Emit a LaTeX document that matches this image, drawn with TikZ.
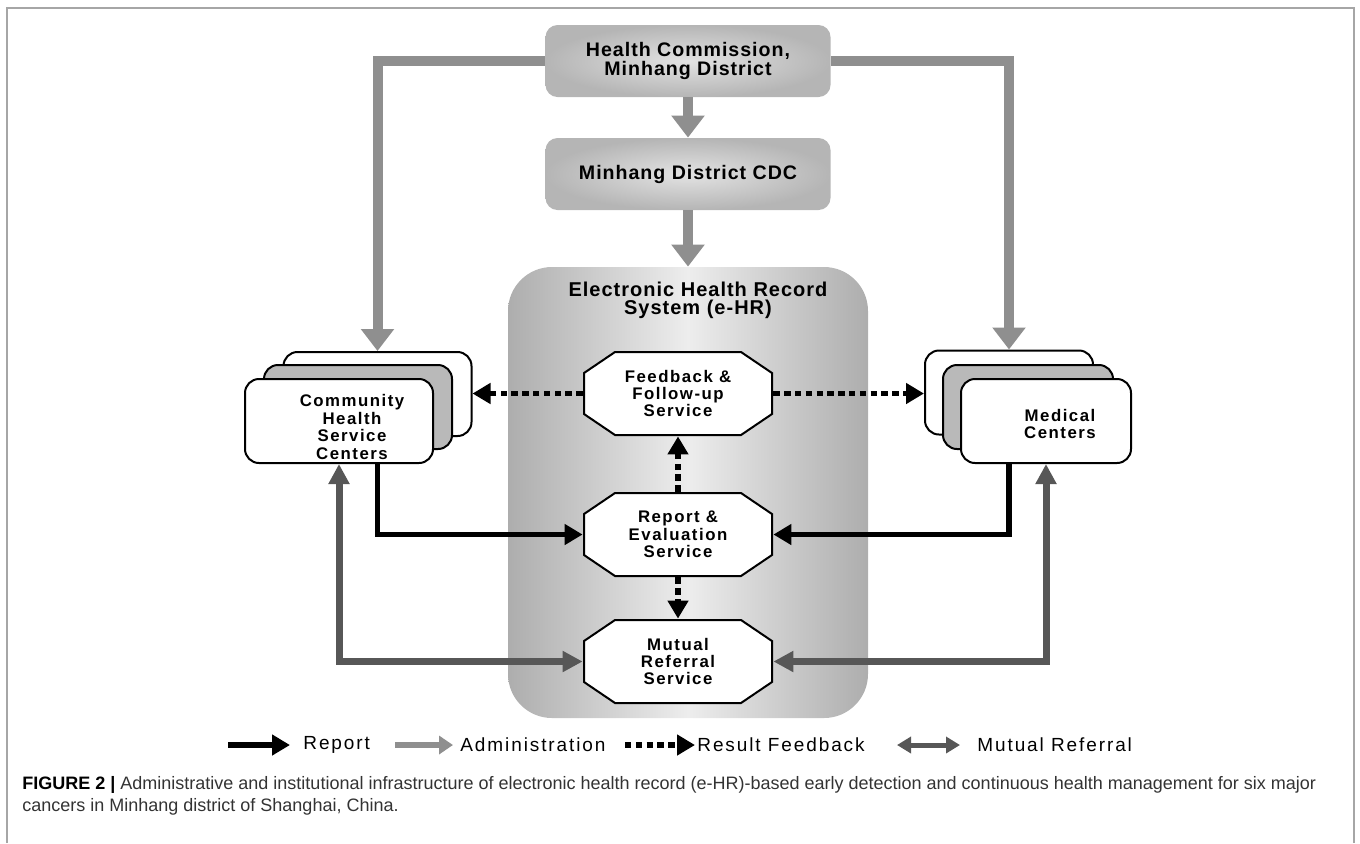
\documentclass[tikz,border=0pt]{standalone}
\usepackage{fontspec}
\setmainfont{Liberation Sans}
\newfontfamily\govfont[LetterSpace=5]{Liberation Sans}
\newfontfamily\innerfont[LetterSpace=9]{Liberation Sans}
\newfontfamily\legfont[LetterSpace=10]{Liberation Sans}
\usetikzlibrary{arrows.meta,positioning,calc}

\tikzset{
  govbox/.style={rectangle, rounded corners=6pt, inner color=gray!22, outer color=gray!58,
    minimum width=142.5pt, minimum height=36pt, align=center,
    font=\govfont\bfseries\fontsize{9.8}{9.2}\selectfont},
  ehrbox/.style={rectangle, rounded corners=22pt, left color=gray!64, right color=gray!64,
    middle color=gray!14, minimum width=180pt, minimum height=225.5pt},
  stackbox/.style={rectangle, draw=black, line width=1pt, rounded corners=7pt, fill=white,
    minimum height=42pt},
  stacktext/.style={align=center, font=\innerfont\bfseries\fontsize{8.4}{8.7}\selectfont},
  octbox/.style={rectangle, minimum width=95pt, minimum height=42.5pt, inner sep=0pt,
    align=center, font=\innerfont\bfseries\fontsize{8.4}{8.7}\selectfont,
    path picture={\filldraw[fill=white, draw=black, line width=1pt]
      ([xshift=16pt,yshift=-0.5pt]path picture bounding box.north west)
      -- ([xshift=-16pt,yshift=-0.5pt]path picture bounding box.north east)
      -- ([xshift=-0.5pt,yshift=-11pt]path picture bounding box.north east)
      -- ([xshift=-0.5pt,yshift=11pt]path picture bounding box.south east)
      -- ([xshift=-16pt,yshift=0.5pt]path picture bounding box.south east)
      -- ([xshift=16pt,yshift=0.5pt]path picture bounding box.south west)
      -- ([xshift=0.5pt,yshift=11pt]path picture bounding box.south west)
      -- ([xshift=0.5pt,yshift=-11pt]path picture bounding box.north west) -- cycle;}},
  admin/.style={draw=gray!88, line width=5pt, -{Triangle[length=11pt,width=16pt]}},
  report/.style={draw=black, line width=2.6pt, -{Triangle[length=9pt,width=10pt]}},
  feedback/.style={draw=black, line width=2.6pt, dash pattern=on 3.2pt off 2.2pt,
    -{Triangle[length=9pt,width=10pt]}},
  mutual/.style={draw=black!66, line width=3.5pt,
    {Triangle[length=10pt,width=10pt]}-{Triangle[length=10pt,width=10pt]}},
  legtext/.style={font=\legfont\fontsize{9.5}{11}\selectfont, inner sep=0pt},
}

\begin{document}
\begin{tikzpicture}[x=0.5pt,y=-0.5pt]
\useasboundingbox (0,0) rectangle (1360,843);
\draw[gray!70, line width=0.6pt] (7,843) -- (7,8) -- (1354,8) -- (1354,843);

% administration levels
\node[govbox] (hc) at (688,61) {Health Commission,\\Minhang District};
\node[govbox] (cdc) at (688,174) {Minhang District CDC};

% e-HR system
\node[ehrbox] (ehr) at (688,492.5) {};
\node[align=center, font=\govfont\bfseries\fontsize{10}{9}\selectfont] (ehrt) at (698,300)
  {Electronic Health Record\\System (e-HR)};
\node[octbox] (fb) at (678,393.5) {Feedback \&\\Follow-up\\Service};
\node[octbox] (rep) at (678,534.5) {Report \&\\Evaluation\\Service};
\node[octbox] (mut) at (678,661.5) {Mutual\\Referral\\Service};

% community health service centers
\node[stackbox, minimum width=94pt] (chscb) at (377.5,394) {};
\node[stackbox, minimum width=94pt, fill=gray!55] (chscm) at (358,407) {};
\node[stackbox, minimum width=94pt] (chscf) at (339,421) {};
\node[stacktext] (chsct) at (352,427) {Community\\Health\\Service\\Centers};

% medical centers
\node[stackbox, minimum width=84pt] (medb) at (1009,392.5) {};
\node[stackbox, minimum width=85pt, fill=gray!55] (medm) at (1028,407) {};
\node[stackbox, minimum width=85pt] (medf) at (1046,421) {};
\node[stacktext] (medt) at (1060,424) {Medical\\Centers};

% administration
\draw[admin] (hc) -- (cdc);
\draw[admin] (cdc) -- (ehr);
\draw[admin] (hc.west) -| (chscb.north);
\draw[admin] (hc.east) -| (medb.north);

% report
\draw[report] (chscb.center |- chscf.south) |- (rep.west);
\draw[report] (medb.center |- medf.south) |- (rep.east);

% result feedback
\draw[feedback] (fb.west) -- (fb.west -| chscb.east);
\draw[feedback] (fb.east) -- (fb.east -| medb.west);
\draw[feedback] (rep) -- (fb);
\draw[feedback] (rep) -- (mut);

% mutual referral
\draw[mutual] (chscf.south) |- (mut.west);
\draw[mutual] (medf.south) |- (mut.east);

% legend
\coordinate (k1) at (228,745);
\coordinate (k2) at (290,745);
\draw[report] (k1) -- (k2);
\node[legtext, anchor=west, right=6.5pt of k2] (l1) {Report};
\coordinate (k3) at (395,745);
\coordinate (k4) at (453,745);
\draw[admin, line width=3pt, -{Triangle[length=7pt,width=9pt]}] (k3) -- (k4);
\node[legtext, anchor=west, right=3.5pt of k4] (l2) {Administration};
\coordinate (k5) at (625,745);
\coordinate (k6) at (695,745);
\draw[feedback] (k5) -- (k6);
\node[legtext, anchor=west, right=1pt of k6] (l3) {Result Feedback};
\coordinate (k7) at (897,745);
\coordinate (k8) at (960,745);
\draw[mutual, line width=2.5pt, {Triangle[length=7pt,width=8pt]}-{Triangle[length=7pt,width=8pt]}] (k7) -- (k8);
\node[legtext, anchor=west, right=8.5pt of k8] (l4) {Mutual Referral};

% caption
\node[anchor=base west, align=left, inner sep=0pt, text=black!80,
  font=\fontsize{9}{11}\selectfont] (cap) at (22,811)
  {\textcolor{black}{\textbf{FIGURE 2 |}} Administrative and institutional infrastructure of electronic health record (e-HR)-based early detection and continuous health management for six major\\cancers in Minhang district of Shanghai, China.};
\end{tikzpicture}
\end{document}
